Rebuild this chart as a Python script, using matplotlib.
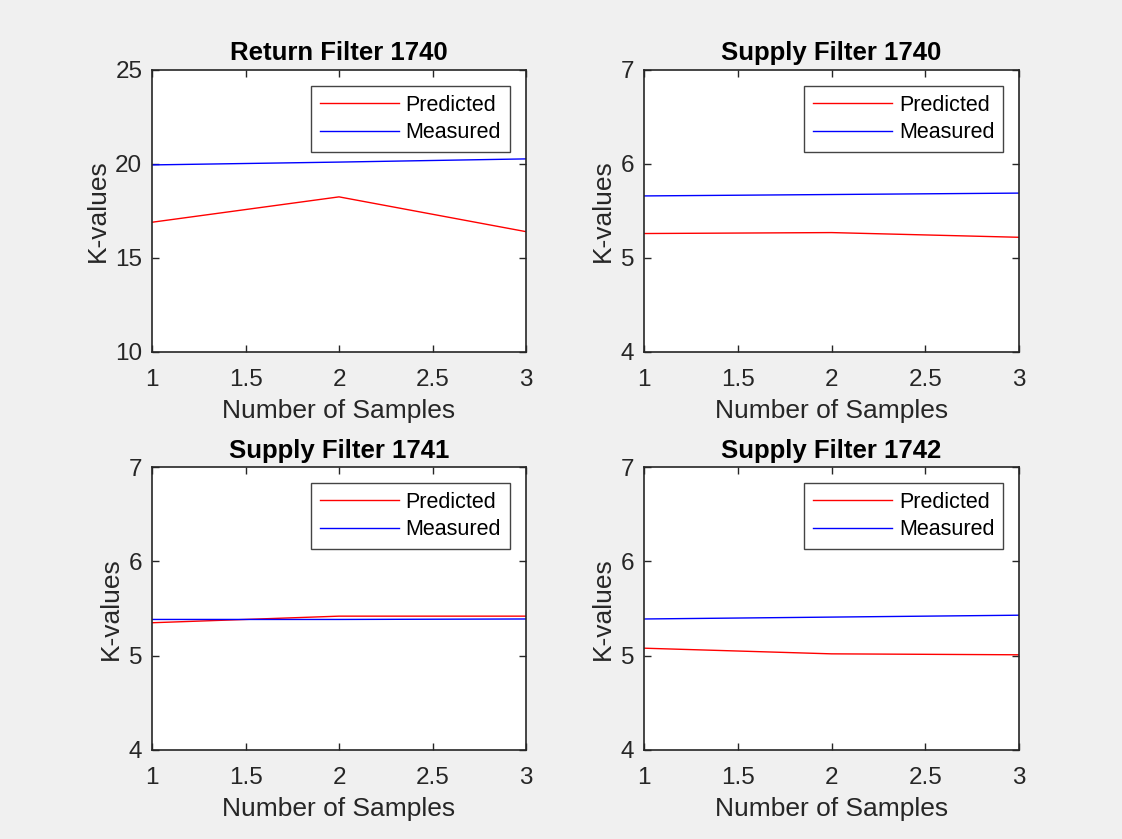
import matplotlib
matplotlib.use('Agg')
import matplotlib.pyplot as plt

# samples on the x axis, shared by all four panels
samples = [1, 2, 3]

titles = ['Return Filter 1740', 'Supply Filter 1740',
          'Supply Filter 1741', 'Supply Filter 1742']

predicted_1740r = [16.9, 18.25, 16.4]
measured_1740r = [19.95, 20.1, 20.27]

predicted_1740s = [5.26, 5.27, 5.22]
measured_1740s = [5.66, 5.675, 5.69]

predicted_1741s = [5.35, 5.42, 5.42]
measured_1741s = [5.385, 5.385, 5.39]

predicted_1742s = [5.08, 5.02, 5.01]
measured_1742s = [5.39, 5.41, 5.43]

ylims = [(10, 25), (4, 7), (4, 7), (4, 7)]
yticks = [[10, 15, 20, 25], [4, 5, 6, 7], [4, 5, 6, 7], [4, 5, 6, 7]]
xticks = [1, 1.5, 2, 2.5, 3]

plt.rcParams['font.family'] = ['Liberation Sans', 'DejaVu Sans']
axis_col = '#262626'

fig = plt.figure(figsize=(11.22, 8.39), dpi=100, facecolor='#f0f0f0')

# axes boxes placed like matlab subplot(2,2,k)
positions = [
    [0.1355, 0.5805, 0.3333, 0.3361],
    [0.574, 0.5805, 0.3343, 0.3361],
    [0.1355, 0.1061, 0.3333, 0.337],
    [0.574, 0.1061, 0.3343, 0.337],
]

pred_all = [predicted_1740r, predicted_1740s, predicted_1741s, predicted_1742s]
meas_all = [measured_1740r, measured_1740s, measured_1741s, measured_1742s]

for i in range(4):
    ax = fig.add_axes(positions[i])
    ax.plot(samples, pred_all[i], color='red', lw=1.0, label='Predicted')
    ax.plot(samples, meas_all[i], color='blue', lw=1.0, label='Measured')
    ax.set_xlim(1, 3)
    ax.set_ylim(*ylims[i])
    ax.set_xticks(xticks)
    ax.set_xticklabels(['1', '1.5', '2', '2.5', '3'])
    ax.set_yticks(yticks[i])
    ax.tick_params(direction='in', top=True, right=True, length=5,
                   width=1, colors=axis_col, labelsize=17.5, pad=7)
    ax.tick_params(axis='x', pad=12)
    for s in ax.spines.values():
        s.set_color(axis_col)
        s.set_linewidth(1.2)
    ax.set_title(titles[i], fontsize=18.5, fontweight='bold', pad=7)
    ax.set_xlabel('Number of Samples', fontsize=19, color=axis_col, labelpad=6)
    ax.set_ylabel('K-values', fontsize=19, color=axis_col, labelpad=4)
    leg = ax.legend(loc='upper right', fontsize=15.5, fancybox=False,
                    framealpha=1, edgecolor='#444444', handlelength=3.7,
                    handletextpad=0.3, borderaxespad=0.75, borderpad=0.4,
                    labelspacing=0.3)
    leg.get_frame().set_linewidth(1.0)

fig.savefig('out.png', dpi=100, facecolor=fig.get_facecolor())
